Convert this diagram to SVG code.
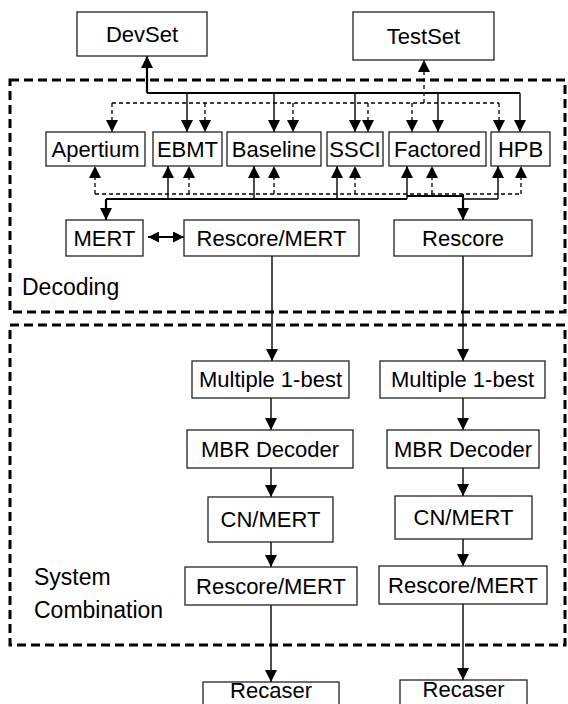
<svg xmlns="http://www.w3.org/2000/svg" width="568" height="704" viewBox="0 0 568 704">
<style>
.box{fill:#fff;stroke:#222;stroke-width:1.3}
.t{font-family:"Liberation Sans",Arial,sans-serif;font-size:22px;fill:#000;text-anchor:middle}
.lbl{font-family:"Liberation Sans",Arial,sans-serif;font-size:23px;fill:#000}
.region{fill:none;stroke:#000;stroke-width:3;stroke-dasharray:9 5}
.s{fill:none;stroke:#000;stroke-width:1.4}
.sb{fill:none;stroke:#000;stroke-width:2.2}
.d{fill:none;stroke:#000;stroke-width:1.3;stroke-dasharray:4 3}
.a{marker-end:url(#ah)}
</style>
<defs>
<marker id="ah" markerUnits="userSpaceOnUse" markerWidth="12" markerHeight="12" viewBox="0 0 12 12" refX="12" refY="6" orient="auto-start-reverse">
<path d="M0,0 L12,6 L0,12 z" fill="#000"/>
</marker>
<marker id="ahs" markerUnits="userSpaceOnUse" markerWidth="11" markerHeight="11" viewBox="0 0 12 12" refX="12" refY="6" orient="auto-start-reverse">
<path d="M0,0 L12,6 L0,12 z" fill="#000"/>
</marker>
</defs>

<g id="regions">
<rect class="region" x="10" y="80" width="555" height="232"/>
<rect class="region" x="10" y="325" width="555" height="320"/>
<text class="lbl" x="22" y="295">Decoding</text>
<text class="lbl" x="34" y="585">System</text>
<text class="lbl" x="34" y="618">Combination</text>
</g>

<g id="connectors">
<path class="sb a" d="M147,93 V56"/>
<path class="sb" d="M147,93 H520"/>
<path class="s a" d="M187,93 V132"/>
<path class="s a" d="M274,93 V132"/>
<path class="s a" d="M355,93 V132"/>
<path class="s a" d="M438,93 V132"/>
<path class="s a" d="M520,93 V132"/>
<path class="d" d="M112,103 H499"/>
<path class="d a" d="M424,103 V60"/>
<path class="d a" d="M112,103 V132"/>
<path class="d a" d="M205,103 V132"/>
<path class="d a" d="M293,103 V132"/>
<path class="d a" d="M368,103 V132"/>
<path class="d a" d="M412,103 V132"/>
<path class="d a" d="M499,103 V132"/>
<path class="d" d="M95,194 H521"/>
<path class="d a" d="M95,194 V166"/>
<path class="d a" d="M189,194 V166"/>
<path class="d a" d="M274,194 V166"/>
<path class="d a" d="M355,194 V166"/>
<path class="d a" d="M432,194 V166"/>
<path class="d a" d="M521,194 V166"/>
<path class="sb" d="M106,199 H407"/>
<path class="sb" d="M407,196 H463"/>
<path class="s" d="M463,199 H498"/>
<path class="s a" d="M168,199 V166"/>
<path class="s a" d="M254,199 V166"/>
<path class="s a" d="M337,199 V166"/>
<path class="s a" d="M407,199 V166"/>
<path class="s a" d="M498,199 V166"/>
<path class="sb a" d="M106,199 V220"/>
<path class="sb a" d="M463,194 V220"/>
<path class="sb" d="M148,237 H184" marker-start="url(#ahs)" marker-end="url(#ahs)"/>
<path class="s a" d="M272,256 V361"/>
<path class="s a" d="M463,256 V361"/>
<path class="s a" d="M271,398 V430"/>
<path class="s a" d="M463,398 V430"/>
<path class="s a" d="M271,468 V497"/>
<path class="s a" d="M463,468 V496"/>
<path class="s a" d="M271,542 V567"/>
<path class="s a" d="M463,539 V566"/>
<path class="s a" d="M271,605 V682"/>
<path class="s a" d="M463,604 V680"/>
</g>

<g id="devset"><rect class="box" x="77" y="12" width="130" height="44"/><text class="t" x="142" y="42">DevSet</text></g>
<g id="testset"><rect class="box" x="353" y="12" width="141" height="48"/><text class="t" x="423.5" y="44">TestSet</text></g>

<g id="apertium"><rect class="box" x="46" y="132" width="99" height="34"/><text class="t" x="95.5" y="157">Apertium</text></g>
<g id="ebmt"><rect class="box" x="153" y="132" width="69" height="34"/><text class="t" x="187.5" y="157">EBMT</text></g>
<g id="baseline"><rect class="box" x="227" y="132" width="94" height="34"/><text class="t" x="274" y="157">Baseline</text></g>
<g id="ssci"><rect class="box" x="327" y="132" width="56" height="34"/><text class="t" x="355" y="157">SSCI</text></g>
<g id="factored"><rect class="box" x="389" y="132" width="97" height="34"/><text class="t" x="437.5" y="157">Factored</text></g>
<g id="hpb"><rect class="box" x="491" y="132" width="59" height="34"/><text class="t" x="520.5" y="157">HPB</text></g>

<g id="mert"><rect class="box" x="66" y="220" width="77" height="36"/><text class="t" x="104.5" y="246">MERT</text></g>
<g id="rescore-mert-dec"><rect class="box" x="184" y="220" width="175" height="36"/><text class="t" x="271.5" y="246">Rescore/MERT</text></g>
<g id="rescore-dec"><rect class="box" x="394" y="220" width="138" height="36"/><text class="t" x="463" y="246">Rescore</text></g>

<g id="multi1"><rect class="box" x="192" y="361" width="157" height="37"/><text class="t" x="270.5" y="387">Multiple 1-best</text></g>
<g id="multi2"><rect class="box" x="380" y="361" width="165" height="37"/><text class="t" x="462.5" y="387">Multiple 1-best</text></g>
<g id="mbr1"><rect class="box" x="187" y="430" width="166" height="38"/><text class="t" x="270" y="457">MBR Decoder</text></g>
<g id="mbr2"><rect class="box" x="387" y="430" width="152" height="38"/><text class="t" x="463" y="457">MBR Decoder</text></g>
<g id="cn1"><rect class="box" x="208" y="497" width="125" height="45"/><text class="t" x="270.5" y="527">CN/MERT</text></g>
<g id="cn2"><rect class="box" x="395" y="496" width="137" height="43"/><text class="t" x="463.5" y="525">CN/MERT</text></g>
<g id="rm1"><rect class="box" x="185" y="567" width="172" height="38"/><text class="t" x="271" y="594">Rescore/MERT</text></g>
<g id="rm2"><rect class="box" x="379" y="566" width="168" height="38"/><text class="t" x="463" y="593">Rescore/MERT</text></g>
<g id="rec1"><rect class="box" x="203" y="682" width="136" height="30"/><text class="t" x="271" y="698">Recaser</text></g>
<g id="rec2"><rect class="box" x="400" y="680" width="127" height="30"/><text class="t" x="463.5" y="697">Recaser</text></g>
</svg>
